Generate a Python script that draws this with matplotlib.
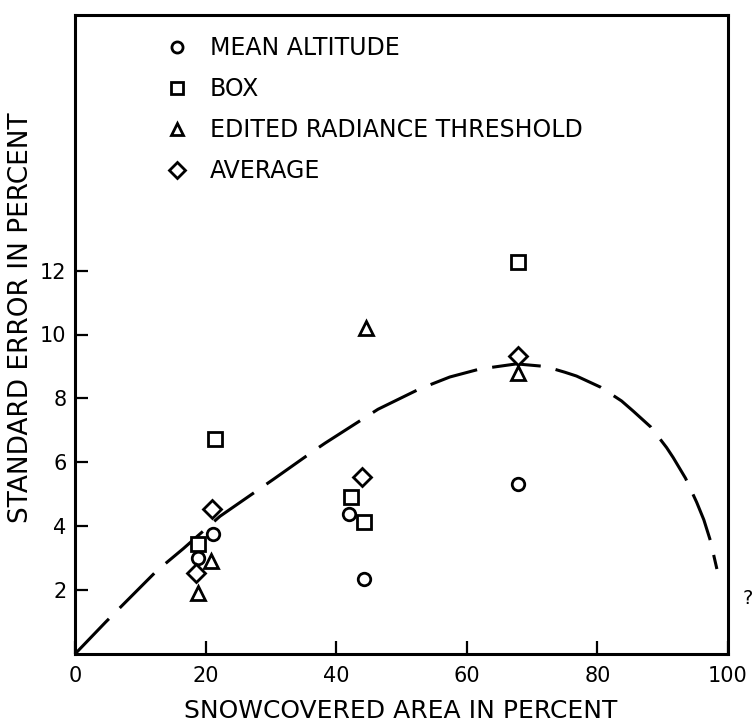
import matplotlib
matplotlib.use("Agg")
import matplotlib.pyplot as plt
from matplotlib.lines import Line2D

plt.rcParams['font.family'] = ['DejaVu Sans']

# --- data ---
alt_x = [18.8, 21.1, 41.9, 44.2, 67.8]
alt_y = [3.0, 3.77, 4.37, 2.36, 5.31]

box_x = [18.8, 21.5, 42.3, 44.3, 67.9]
box_y = [3.43, 6.72, 4.92, 4.13, 12.27]

ert_x = [18.8, 20.9, 44.6, 67.9]
ert_y = [1.90, 2.92, 10.2, 8.78]

avg_x = [18.6, 21.0, 44.0, 67.9]
avg_y = [2.52, 4.55, 5.55, 9.32]

curve_x = [0, 4.7, 12.5, 16.6, 22.2, 30.4, 36.5, 38.3, 46.4, 52.8, 57.4,
           62.0, 67.6, 72.0, 75.0, 76.8, 80.5, 83.7, 85.5, 88.2, 90.6, 91.6,
           93.5, 95.2, 96.3, 97.3, 98.3]
curve_y = [0, 1.0, 2.6, 3.3, 4.31, 5.47, 6.35, 6.6, 7.66, 8.3, 8.67,
           8.92, 9.08, 9.0, 8.82, 8.7, 8.35, 7.92, 7.6, 7.1, 6.46, 6.15,
           5.5, 4.75, 4.2, 3.55, 2.66]

labels = ["MEAN ALTITUDE", "BOX", "EDITED RADIANCE THRESHOLD", "AVERAGE"]
xticks = [0, 20, 40, 60, 80, 100]
yticks = [2, 4, 6, 8, 10, 12]

W, H = 753, 722
fig = plt.figure(figsize=(W / 100, H / 100), dpi=100)
ax = fig.add_axes([75 / W, 1 - 654 / H, (728 - 75) / W, (654 - 15) / H])

mk = dict(linestyle='none', markerfacecolor='white', markeredgecolor='black',
          markeredgewidth=2.0, zorder=3)
ax.plot(curve_x, curve_y, color='black', lw=2.2, dashes=(16, 5), zorder=2)
ax.plot(alt_x, alt_y, marker='o', markersize=9, **mk)
ax.plot(box_x, box_y, marker='s', markersize=10, **mk)
ax.plot(ert_x, ert_y, marker='^', markersize=10, **mk)
ax.plot(avg_x, avg_y, marker='D', markersize=9, **mk)

ax.set_xlim(0, 100)
ax.set_ylim(0, 20)
ax.set_xticks(xticks)
ax.set_yticks(yticks)
ax.tick_params(direction='in', length=9.5, width=1.6, labelsize=15, color='black')
ax.tick_params(axis='x', pad=9)
ax.tick_params(axis='y', pad=6)
for s in ax.spines.values():
    s.set_linewidth(2.2)

handles = [
    Line2D([], [], marker='o', markersize=8, **mk),
    Line2D([], [], marker='s', markersize=9, **mk),
    Line2D([], [], marker='^', markersize=9, **mk),
    Line2D([], [], marker='D', markersize=8, **mk),
]
leg = ax.legend(handles, labels, loc='upper left',
                bbox_to_anchor=(165 / W, 1 - 36 / H), bbox_transform=fig.transFigure,
                frameon=False, fontsize=17, handlelength=1.0, handletextpad=0.9,
                labelspacing=0.72, borderpad=0, borderaxespad=0)

fig.text(401 / W, 1 - 711 / H, "SNOWCOVERED AREA IN PERCENT", fontsize=18,
         ha='center', va='center')
fig.text(21 / W, 1 - 318 / H, "STANDARD ERROR IN PERCENT", fontsize=19,
         ha='center', va='center', rotation=90)
fig.text(748 / W, 1 - 598 / H, "?", fontsize=14, ha='center', va='center')

fig.savefig("out.png", dpi=100)
